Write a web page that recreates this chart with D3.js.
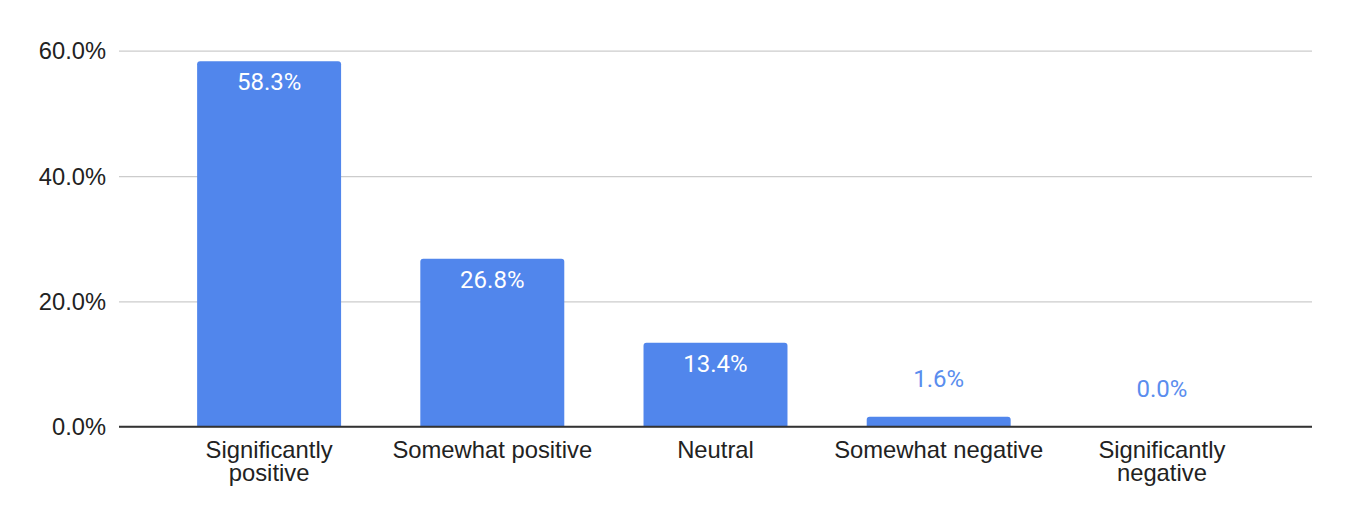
<!DOCTYPE html>
<html>
<head>
<meta charset="utf-8">
<script src="https://cdn.jsdelivr.net/npm/d3@7"></script>
<style>
  body { margin: 0; background: #fff; }
  svg { display: block; }
</style>
</head>
<body>
<script>
// data
const categories = ['Significantly positive', 'Somewhat positive', 'Neutral', 'Somewhat negative', 'Significantly negative']
const shares = [0.583, 0.268, 0.134, 0.016, 0.0]
const yTicks = [0, 0.2, 0.4, 0.6]

let width = 1370
let height = 530
let plotLeft = 119, plotRight = 1312, plotTop = 50.7, plotBottom = 426.7

const barColor = '#5186ec'
const pct = d3.format('.1%')

const svg = d3.select('body').append('svg').attr('width', width).attr('height', height)

const x = d3.scaleBand()
  .domain(categories)
  .range([plotLeft, plotRight])
  .paddingInner(0.355)
  .paddingOuter(0.35)

const y = d3.scaleLinear()
  .domain([0, 0.6])
  .range([plotBottom, plotTop])

// gridlines + tick labels
const yAxis = d3.axisLeft(y)
  .tickValues(yTicks)
  .tickFormat(pct)
  .tickSize(-(plotRight - plotLeft))
  .tickPadding(13)

const gy = svg.append('g')
  .attr('transform', `translate(${plotLeft},0)`)
  .call(yAxis)
gy.select('.domain').remove()
gy.selectAll('.tick line').attr('stroke', '#cccccc').attr('stroke-width', 1.3)
gy.selectAll('.tick text')
  .attr('fill', '#222')
  .style('font-family', 'Arial, "Liberation Sans", sans-serif')
  .style('font-size', '23.7px')
  .attr('dy', '0.35em')

// bars, only top corners rounded
const r = 3
svg.append('g').selectAll('path')
  .data(shares)
  .enter()
  .append('path')
  .attr('fill', barColor)
  .attr('d', (d, i) => {
    let x0 = x(categories[i]), w = x.bandwidth()
    let y0 = y(d), h = plotBottom - y0
    if (h <= 0) return ''
    let rr = Math.min(r, h)
    return `M${x0},${plotBottom}V${y0 + rr}Q${x0},${y0} ${x0 + rr},${y0}H${x0 + w - rr}Q${x0 + w},${y0} ${x0 + w},${y0 + rr}V${plotBottom}Z`
  })

// zero baseline
svg.append('line')
  .attr('x1', plotLeft).attr('x2', plotRight)
  .attr('y1', y(0)).attr('y2', y(0))
  .attr('stroke', '#333').attr('stroke-width', 2)

// value labels: inside the bar when tall enough, else above it
svg.append('g').selectAll('text')
  .data(shares)
  .enter()
  .append('text')
  .attr('x', (d, i) => x(categories[i]) + x.bandwidth() / 2)
  .attr('y', d => (plotBottom - y(d) > 45) ? y(d) + 29 : y(d) - 30)
  .attr('text-anchor', 'middle')
  .attr('fill', d => (plotBottom - y(d) > 45) ? '#ffffff' : '#5a8dee')
  .style('font-family', 'Roboto, sans-serif')
  .style('font-size', '24px')
  .text(d => pct(d))

// category labels, wrapped to the band width
const catG = svg.append('g').selectAll('text')
  .data(categories)
  .enter()
  .append('text')
  .attr('text-anchor', 'middle')
  .attr('fill', '#222')
  .style('font-family', 'Arial, "Liberation Sans", sans-serif')
  .style('font-size', '23.8px')

catG.each(function (name) {
  let t = d3.select(this)
  let cx = x(name) + x.bandwidth() / 2
  let words = name.split(' ')
  let lines = [], line = []
  let probe = t.append('tspan')
  words.forEach(w => {
    line.push(w)
    probe.text(line.join(' '))
    if (probe.node().getComputedTextLength() > 212 && line.length > 1) {
      line.pop()
      lines.push(line.join(' '))
      line = [w]
    }
  })
  lines.push(line.join(' '))
  probe.remove()
  lines.forEach((l, k) => {
    t.append('tspan').attr('x', cx).attr('y', 458 + k * 22.7).text(l)
  })
})
</script>
</body>
</html>
